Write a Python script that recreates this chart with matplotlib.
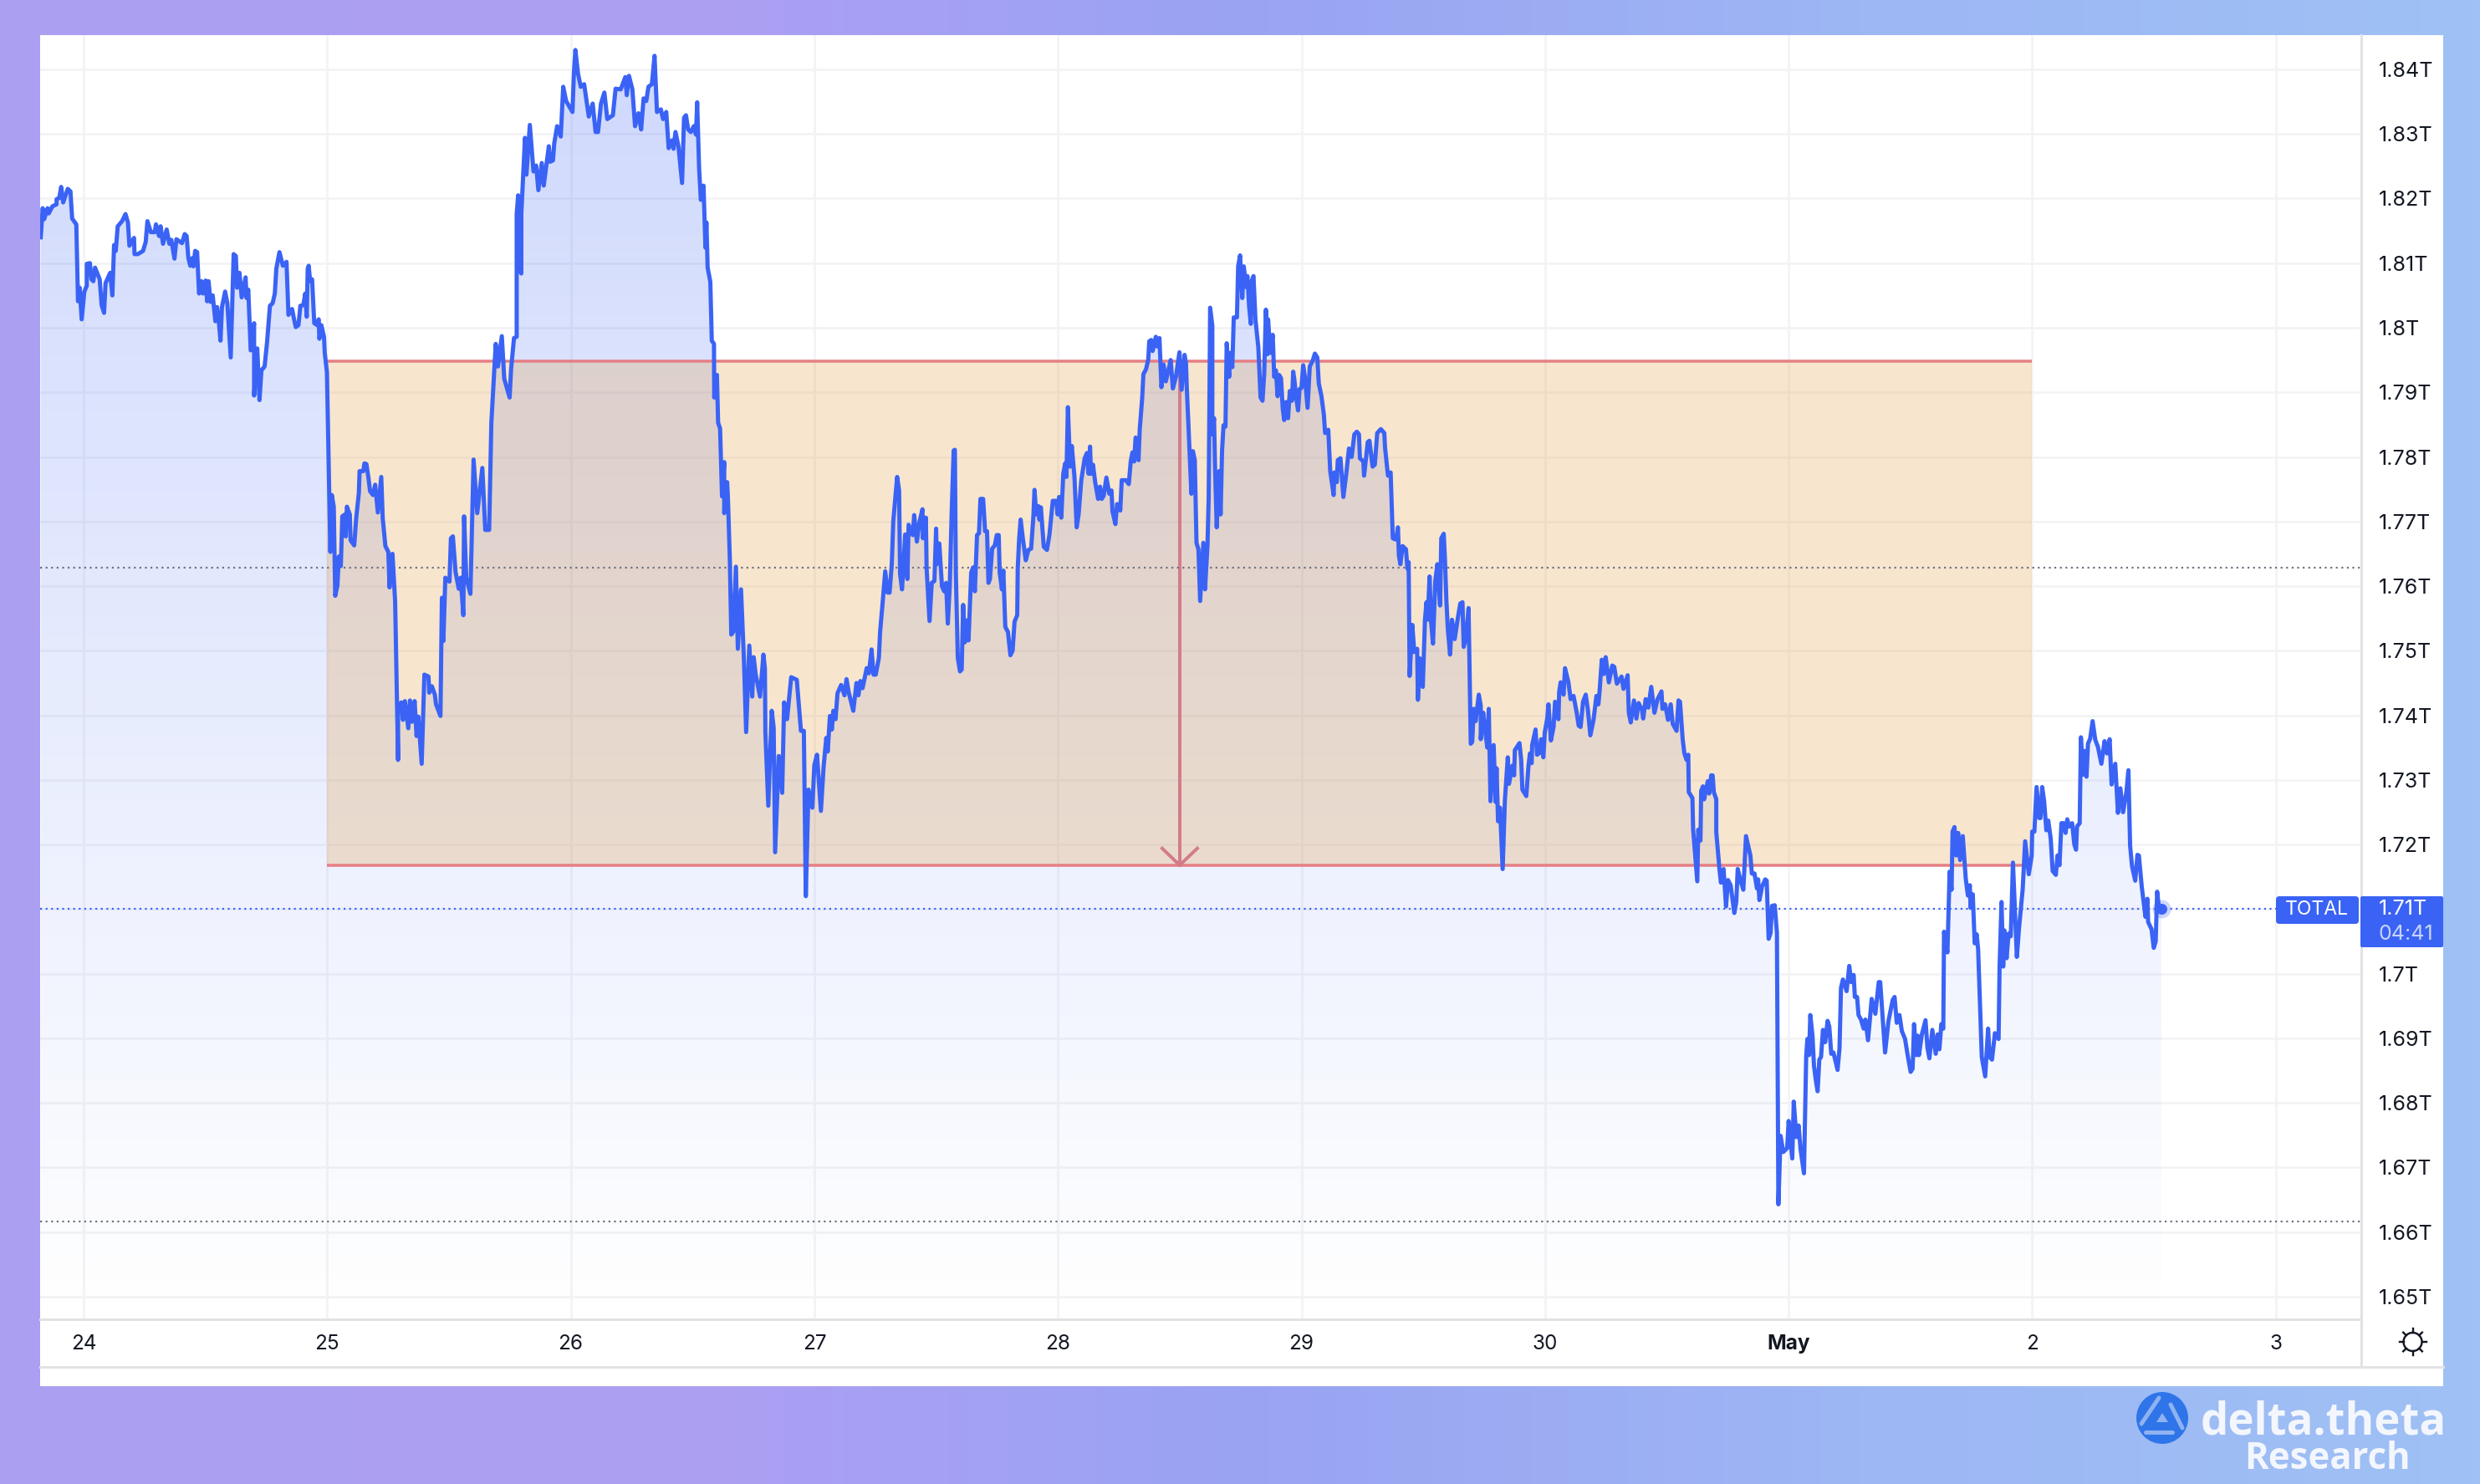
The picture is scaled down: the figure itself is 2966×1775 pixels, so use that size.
import matplotlib

matplotlib.use("Agg")
import matplotlib.pyplot as plt
import numpy as np
from matplotlib.colors import LinearSegmentedColormap, to_rgb
from matplotlib.patches import Circle, FancyBboxPatch, Polygon, Rectangle

W, H = 2966, 1775
DPI = 100

# Days since 24 April 00:00 and total market cap in trillions
days = [
    -0.176, -0.168, -0.162, -0.148, -0.143, -0.128, -0.111, -0.111, -0.100, -0.092,
    -0.084, -0.065, -0.054, -0.047, -0.030, -0.023, -0.016, -0.008, 0.003, 0.013,
    0.013, 0.026, 0.032, 0.040, 0.047, 0.066, 0.074, 0.084, 0.090, 0.109,
    0.118, 0.125, 0.132, 0.140, 0.158, 0.172, 0.182, 0.188, 0.207, 0.209,
    0.223, 0.244, 0.255, 0.262, 0.276, 0.292, 0.297, 0.310, 0.316, 0.326,
    0.341, 0.352, 0.360, 0.373, 0.381, 0.404, 0.415, 0.423, 0.430, 0.438,
    0.447, 0.451, 0.458, 0.466, 0.474, 0.484, 0.490, 0.501, 0.507, 0.513,
    0.521, 0.530, 0.541, 0.548, 0.555, 0.562, 0.568, 0.581, 0.590, 0.604,
    0.616, 0.625, 0.630, 0.640, 0.649, 0.665, 0.669, 0.676, 0.686, 0.700,
    0.700, 0.713, 0.722, 0.730, 0.743, 0.753, 0.765, 0.776, 0.785, 0.791,
    0.804, 0.818, 0.833, 0.841, 0.856, 0.864, 0.871, 0.882, 0.890, 0.902,
    0.910, 0.916, 0.920, 0.924, 0.930, 0.938, 0.947, 0.959, 0.965, 0.968,
    0.976, 0.987, 0.990, 0.999, 1.002, 1.013, 1.019, 1.027, 1.033, 1.042,
    1.048, 1.056, 1.062, 1.073, 1.076, 1.081, 1.093, 1.096, 1.111, 1.119,
    1.130, 1.133, 1.148, 1.153, 1.161, 1.170, 1.176, 1.188, 1.197, 1.208,
    1.222, 1.228, 1.239, 1.251, 1.256, 1.260, 1.268, 1.279, 1.291, 1.291,
    1.304, 1.311, 1.319, 1.333, 1.340, 1.348, 1.359, 1.367, 1.374, 1.388,
    1.399, 1.416, 1.419, 1.430, 1.442, 1.447, 1.465, 1.471, 1.477, 1.485,
    1.502, 1.508, 1.516, 1.527, 1.540, 1.548, 1.559, 1.562, 1.571, 1.588,
    1.601, 1.616, 1.637, 1.649, 1.665, 1.674, 1.692, 1.701, 1.717, 1.727,
    1.749, 1.755, 1.767, 1.778, 1.778, 1.784, 1.789, 1.797, 1.797, 1.812,
    1.818, 1.832, 1.847, 1.858, 1.867, 1.881, 1.889, 1.910, 1.915, 1.927,
    1.932, 1.944, 1.959, 1.969, 1.981, 2.007, 2.013, 2.019, 2.030, 2.041,
    2.055, 2.074, 2.090, 2.102, 2.112, 2.124, 2.138, 2.150, 2.173, 2.184,
    2.205, 2.224, 2.230, 2.239, 2.253, 2.264, 2.278, 2.289, 2.299, 2.310,
    2.319, 2.333, 2.344, 2.354, 2.370, 2.379, 2.392, 2.402, 2.416, 2.422,
    2.430, 2.442, 2.457, 2.465, 2.473, 2.482, 2.493, 2.505, 2.514, 2.519,
    2.527, 2.534, 2.545, 2.553, 2.557, 2.562, 2.573, 2.579, 2.588, 2.589,
    2.600, 2.605, 2.613, 2.621, 2.630, 2.630, 2.642, 2.645, 2.653, 2.659,
    2.667, 2.678, 2.686, 2.699, 2.711, 2.720, 2.733, 2.745, 2.751, 2.759,
    2.777, 2.791, 2.797, 2.799, 2.811, 2.825, 2.833, 2.839, 2.854, 2.868,
    2.876, 2.888, 2.905, 2.928, 2.945, 2.957, 2.965, 2.976, 2.992, 3.000,
    3.011, 3.027, 3.038, 3.049, 3.055, 3.064, 3.072, 3.078, 3.087, 3.095,
    3.110, 3.124, 3.132, 3.141, 3.160, 3.173, 3.181, 3.189, 3.198, 3.215,
    3.224, 3.235, 3.243, 3.252, 3.265, 3.270, 3.279, 3.291, 3.301, 3.309,
    3.318, 3.324, 3.332, 3.340, 3.348, 3.352, 3.360, 3.373, 3.382, 3.387,
    3.404, 3.410, 3.421, 3.432, 3.444, 3.446, 3.458, 3.461, 3.473, 3.482,
    3.493, 3.500, 3.503, 3.513, 3.524, 3.533, 3.541, 3.548, 3.556, 3.564,
    3.572, 3.577, 3.581, 3.589, 3.598, 3.605, 3.611, 3.618, 3.625, 3.633,
    3.644, 3.652, 3.659, 3.668, 3.676, 3.682, 3.693, 3.701, 3.709, 3.715,
    3.721, 3.730, 3.741, 3.749, 3.757, 3.761, 3.770, 3.776, 3.784, 3.795,
    3.805, 3.814, 3.822, 3.833, 3.835, 3.841, 3.847, 3.856, 3.868, 3.879,
    3.890, 3.899, 3.904, 3.911, 3.919, 3.924, 3.930, 3.942, 3.955, 3.965,
    3.970, 3.979, 3.993, 3.999, 4.005, 4.014, 4.022, 4.030, 4.035, 4.041,
    4.050, 4.057, 4.068, 4.077, 4.085, 4.096, 4.110, 4.119, 4.126, 4.132,
    4.136, 4.144, 4.153, 4.165, 4.173, 4.180, 4.188, 4.199, 4.211, 4.220,
    4.224, 4.236, 4.243, 4.256, 4.262, 4.279, 4.291, 4.299, 4.306, 4.313,
    4.319, 4.331, 4.336, 4.346, 4.351, 4.362, 4.371, 4.375, 4.383, 4.389,
    4.402, 4.408, 4.417, 4.425, 4.434, 4.443, 4.463, 4.472, 4.485, 4.499,
    4.508, 4.520, 4.526, 4.529, 4.537, 4.548, 4.554, 4.562, 4.569, 4.577,
    4.584, 4.597, 4.604, 4.614, 4.619, 4.625, 4.634, 4.634, 4.641, 4.645,
    4.652, 4.662, 4.668, 4.674, 4.680, 4.688, 4.693, 4.703, 4.708, 4.716,
    4.722, 4.735, 4.740, 4.748, 4.757, 4.763, 4.773, 4.778, 4.785, 4.792,
    4.796, 4.803, 4.811, 4.823, 4.832, 4.840, 4.847, 4.854, 4.860, 4.863,
    4.872, 4.882, 4.888, 4.895, 4.902, 4.908, 4.916, 4.923, 4.929, 4.937,
    4.945, 4.952, 4.961, 4.966, 4.971, 4.979, 4.986, 4.992, 5.000, 5.007,
    5.014, 5.025, 5.034, 5.046, 5.055, 5.065, 5.071, 5.082, 5.092, 5.097,
    5.110, 5.118, 5.132, 5.135, 5.145, 5.149, 5.160, 5.172, 5.183, 5.195,
    5.206, 5.217, 5.227, 5.236, 5.240, 5.254, 5.257, 5.272, 5.279, 5.292,
    5.301, 5.311, 5.326, 5.340, 5.343, 5.355, 5.366, 5.375, 5.389, 5.396,
    5.400, 5.406, 5.415, 5.429, 5.435, 5.440, 5.444, 5.455, 5.463, 5.475,
    5.478, 5.486, 5.498, 5.507, 5.513, 5.518, 5.526, 5.532, 5.540, 5.549,
    5.558, 5.569, 5.574, 5.584, 5.589, 5.595, 5.601, 5.610, 5.618, 5.629,
    5.643, 5.652, 5.661, 5.666, 5.675, 5.686, 5.695, 5.701, 5.707, 5.715,
    5.728, 5.736, 5.736, 5.746, 5.755, 5.763, 5.769, 5.776, 5.789, 5.797,
    5.801, 5.807, 5.815, 5.826, 5.835, 5.847, 5.852, 5.866, 5.873, 5.876,
    5.895, 5.902, 5.907, 5.923, 5.932, 5.938, 5.945, 5.947, 5.961, 5.967,
    5.975, 5.984, 5.993, 5.999, 6.009, 6.014, 6.024, 6.035, 6.041, 6.055,
    6.058, 6.064, 6.076, 6.082, 6.096, 6.105, 6.117, 6.130, 6.138, 6.146,
    6.156, 6.167, 6.176, 6.186, 6.199, 6.211, 6.219, 6.224, 6.233, 6.241,
    6.249, 6.262, 6.276, 6.284, 6.295, 6.314, 6.322, 6.339, 6.344, 6.352,
    6.365, 6.375, 6.384, 6.398, 6.403, 6.413, 6.424, 6.436, 6.449, 6.462,
    6.478, 6.482, 6.493, 6.505, 6.516, 6.524, 6.540, 6.548, 6.554, 6.565,
    6.572, 6.581, 6.588, 6.590, 6.605, 6.608, 6.625, 6.629, 6.638, 6.641,
    6.648, 6.653, 6.668, 6.674, 6.682, 6.688, 6.693, 6.703, 6.703, 6.716,
    6.722, 6.733, 6.743, 6.751, 6.762, 6.777, 6.785, 6.791, 6.802, 6.814,
    6.825, 6.843, 6.849, 6.860, 6.870, 6.875, 6.880, 6.891, 6.904, 6.910,
    6.918, 6.926, 6.932, 6.943, 6.952, 6.958, 6.967, 6.978, 6.994, 7.000,
    7.015, 7.021, 7.032, 7.041, 7.049, 7.063, 7.072, 7.077, 7.084, 7.089,
    7.098, 7.104, 7.112, 7.119, 7.126, 7.133, 7.141, 7.150, 7.160, 7.167,
    7.175, 7.184, 7.201, 7.209, 7.215, 7.223, 7.238, 7.249, 7.257, 7.267,
    7.272, 7.281, 7.287, 7.297, 7.308, 7.315, 7.326, 7.341, 7.356, 7.370,
    7.376, 7.387, 7.396, 7.410, 7.427, 7.435, 7.444, 7.455, 7.465, 7.478,
    7.490, 7.501, 7.509, 7.515, 7.524, 7.530, 7.535, 7.547, 7.562, 7.570,
    7.578, 7.590, 7.604, 7.612, 7.619, 7.627, 7.635, 7.638, 7.652, 7.661,
    7.669, 7.673, 7.681, 7.688, 7.696, 7.704, 7.715, 7.727, 7.736, 7.744,
    7.747, 7.756, 7.764, 7.772, 7.778, 7.789, 7.793, 7.807, 7.819, 7.825,
    7.835, 7.847, 7.862, 7.866, 7.874, 7.881, 7.886, 7.895, 7.903, 7.912,
    7.921, 7.937, 7.946, 7.961, 7.971, 7.986, 7.998, 8.000, 8.009, 8.018,
    8.029, 8.034, 8.041, 8.049, 8.058, 8.066, 8.076, 8.084, 8.097, 8.104,
    8.112, 8.120, 8.129, 8.137, 8.144, 8.152, 8.164, 8.173, 8.180, 8.184,
    8.195, 8.200, 8.209, 8.213, 8.223, 8.229, 8.238, 8.248, 8.259, 8.270,
    8.284, 8.297, 8.307, 8.318, 8.326, 8.341, 8.352, 8.362, 8.373, 8.387,
    8.395, 8.402, 8.410, 8.423, 8.432, 8.438, 8.450, 8.465, 8.473, 8.476,
    8.490, 8.499, 8.507, 8.513, 8.521, 8.530,
]

total = [
    1.8140, 1.8185, 1.8168, 1.8185, 1.8177, 1.8188, 1.8191, 1.8199, 1.8201, 1.8218,
    1.8194, 1.8215, 1.8211, 1.8169, 1.8160, 1.8041, 1.8062, 1.8013, 1.8056, 1.8065,
    1.8099, 1.8100, 1.8075, 1.8072, 1.8093, 1.8075, 1.8035, 1.8023, 1.8069, 1.8085,
    1.8050, 1.8128, 1.8119, 1.8157, 1.8165, 1.8176, 1.8163, 1.8127, 1.8139, 1.8114,
    1.8114, 1.8119, 1.8133, 1.8165, 1.8148, 1.8148, 1.8160, 1.8142, 1.8157, 1.8130,
    1.8152, 1.8130, 1.8136, 1.8107, 1.8137, 1.8131, 1.8145, 1.8142, 1.8108, 1.8096,
    1.8108, 1.8095, 1.8119, 1.8117, 1.8053, 1.8072, 1.8053, 1.8073, 1.8041, 1.8072,
    1.8040, 1.8050, 1.8010, 1.8032, 1.8010, 1.7980, 1.8032, 1.8056, 1.8038, 1.7954,
    1.8114, 1.8111, 1.8062, 1.8085, 1.8047, 1.8078, 1.8046, 1.8059, 1.7965, 1.8007,
    1.7895, 1.7968, 1.7888, 1.7934, 1.7940, 1.7977, 1.8034, 1.8038, 1.8053, 1.8091,
    1.8117, 1.8096, 1.8102, 1.8020, 1.8029, 1.8013, 1.8001, 1.8004, 1.8034, 1.8035,
    1.8053, 1.8017, 1.8091, 1.8096, 1.8072, 1.8075, 1.8007, 1.8004, 1.8013, 1.7983,
    1.8004, 1.7986, 1.7961, 1.7931, 1.7870, 1.7653, 1.7741, 1.7723, 1.7585, 1.7601,
    1.7646, 1.7631, 1.7708, 1.7711, 1.7677, 1.7723, 1.7711, 1.7671, 1.7663, 1.7705,
    1.7744, 1.7778, 1.7778, 1.7790, 1.7789, 1.7766, 1.7747, 1.7741, 1.7757, 1.7714,
    1.7769, 1.7705, 1.7662, 1.7653, 1.7598, 1.7637, 1.7650, 1.7576, 1.7331, 1.7405,
    1.7420, 1.7393, 1.7422, 1.7380, 1.7423, 1.7390, 1.7422, 1.7368, 1.7398, 1.7325,
    1.7463, 1.7460, 1.7435, 1.7445, 1.7432, 1.7417, 1.7399, 1.7582, 1.7515, 1.7613,
    1.7607, 1.7674, 1.7677, 1.7622, 1.7596, 1.7613, 1.7555, 1.7708, 1.7613, 1.7588,
    1.7796, 1.7713, 1.7783, 1.7687, 1.7687, 1.7853, 1.7975, 1.7940, 1.7987, 1.7921,
    1.7892, 1.7936, 1.7984, 1.7986, 1.8176, 1.8205, 1.8089, 1.8084, 1.8176, 1.8294,
    1.8237, 1.8314, 1.8242, 1.8251, 1.8213, 1.8255, 1.8220, 1.8281, 1.8257, 1.8259,
    1.8285, 1.8312, 1.8296, 1.8373, 1.8351, 1.8334, 1.8395, 1.8430, 1.8393, 1.8373,
    1.8377, 1.8327, 1.8347, 1.8303, 1.8303, 1.8347, 1.8364, 1.8323, 1.8329, 1.8370,
    1.8369, 1.8388, 1.8360, 1.8390, 1.8369, 1.8312, 1.8332, 1.8307, 1.8355, 1.8351,
    1.8373, 1.8377, 1.8421, 1.8334, 1.8338, 1.8323, 1.8334, 1.8278, 1.8290, 1.8277,
    1.8303, 1.8281, 1.8224, 1.8325, 1.8329, 1.8307, 1.8303, 1.8312, 1.8299, 1.8349,
    1.8246, 1.8198, 1.8220, 1.8124, 1.8163, 1.8093, 1.8071, 1.7980, 1.7975, 1.7892,
    1.7927, 1.7853, 1.7844, 1.7739, 1.7792, 1.7713, 1.7761, 1.7739, 1.7643, 1.7525,
    1.7529, 1.7630, 1.7503, 1.7595, 1.7486, 1.7374, 1.7508, 1.7429, 1.7490, 1.7464,
    1.7429, 1.7494, 1.7473, 1.7374, 1.7260, 1.7407, 1.7381, 1.7188, 1.7337, 1.7280,
    1.7420, 1.7394, 1.7459, 1.7455, 1.7376, 1.7376, 1.7120, 1.7285, 1.7257, 1.7323,
    1.7339, 1.7252, 1.7320, 1.7365, 1.7344, 1.7399, 1.7378, 1.7407, 1.7394, 1.7434,
    1.7447, 1.7431, 1.7456, 1.7436, 1.7407, 1.7450, 1.7431, 1.7453, 1.7442, 1.7473,
    1.7465, 1.7502, 1.7463, 1.7463, 1.7489, 1.7529, 1.7568, 1.7623, 1.7590, 1.7590,
    1.7634, 1.7700, 1.7735, 1.7769, 1.7748, 1.7619, 1.7595, 1.7680, 1.7611, 1.7695,
    1.7679, 1.7710, 1.7669, 1.7700, 1.7719, 1.7674, 1.7706, 1.7627, 1.7546, 1.7605,
    1.7608, 1.7689, 1.7634, 1.7666, 1.7600, 1.7592, 1.7605, 1.7542, 1.7600, 1.7716,
    1.7810, 1.7811, 1.7621, 1.7489, 1.7468, 1.7471, 1.7571, 1.7513, 1.7547, 1.7516,
    1.7621, 1.7629, 1.7592, 1.7679, 1.7682, 1.7735, 1.7735, 1.7685, 1.7685, 1.7605,
    1.7611, 1.7658, 1.7663, 1.7679, 1.7679, 1.7621, 1.7595, 1.7624, 1.7537, 1.7529,
    1.7493, 1.7500, 1.7545, 1.7555, 1.7627, 1.7674, 1.7703, 1.7674, 1.7640, 1.7656,
    1.7658, 1.7706, 1.7749, 1.7711, 1.7724, 1.7703, 1.7722, 1.7661, 1.7656, 1.7679,
    1.7698, 1.7732, 1.7732, 1.7711, 1.7738, 1.7706, 1.7774, 1.7790, 1.7769, 1.7877,
    1.7785, 1.7817, 1.7769, 1.7691, 1.7711, 1.7764, 1.7798, 1.7806, 1.7774, 1.7816,
    1.7774, 1.7788, 1.7761, 1.7735, 1.7754, 1.7735, 1.7740, 1.7768, 1.7743, 1.7748,
    1.7716, 1.7696, 1.7727, 1.7717, 1.7764, 1.7764, 1.7758, 1.7793, 1.7807, 1.7793,
    1.7830, 1.7795, 1.7843, 1.7891, 1.7928, 1.7936, 1.7951, 1.7979, 1.7981, 1.7964,
    1.7986, 1.7971, 1.7984, 1.7908, 1.7943, 1.7917, 1.7950, 1.7906, 1.7925, 1.7962,
    1.7904, 1.7958, 1.7944, 1.7909, 1.7840, 1.7743, 1.7809, 1.7795, 1.7667, 1.7657,
    1.7577, 1.7667, 1.7595, 1.7662, 1.7736, 1.8031, 1.8003, 1.7835, 1.7860, 1.7788,
    1.7691, 1.7778, 1.7711, 1.7810, 1.7849, 1.7847, 1.7976, 1.7924, 1.7961, 1.7939,
    1.8016, 1.8016, 1.8095, 1.8112, 1.8046, 1.8095, 1.8063, 1.8080, 1.8033, 1.8006,
    1.8073, 1.8080, 1.8013, 1.7969, 1.7892, 1.7887, 1.7929, 1.8028, 1.7959, 1.8013,
    1.7961, 1.7989, 1.7924, 1.7934, 1.7894, 1.7927, 1.7922, 1.7875, 1.7857, 1.7885,
    1.7860, 1.7902, 1.7887, 1.7932, 1.7919, 1.7890, 1.7872, 1.7905, 1.7907, 1.7942,
    1.7924, 1.7876, 1.7940, 1.7949, 1.7960, 1.7954, 1.7914, 1.7894, 1.7865, 1.7837,
    1.7842, 1.7778, 1.7741, 1.7776, 1.7761, 1.7795, 1.7798, 1.7738, 1.7771, 1.7813,
    1.7800, 1.7835, 1.7839, 1.7835, 1.7798, 1.7793, 1.7771, 1.7823, 1.7825, 1.7785,
    1.7788, 1.7837, 1.7843, 1.7837, 1.7815, 1.7771, 1.7776, 1.7674, 1.7672, 1.7691,
    1.7647, 1.7634, 1.7662, 1.7657, 1.7627, 1.7637, 1.7461, 1.7540, 1.7498, 1.7503,
    1.7424, 1.7488, 1.7444, 1.7548, 1.7575, 1.7548, 1.7615, 1.7545, 1.7511, 1.7607,
    1.7634, 1.7570, 1.7674, 1.7681, 1.7642, 1.7577, 1.7533, 1.7494, 1.7548, 1.7518,
    1.7553, 1.7573, 1.7575, 1.7506, 1.7518, 1.7566, 1.7356, 1.7359, 1.7410, 1.7391,
    1.7432, 1.7415, 1.7363, 1.7404, 1.7374, 1.7350, 1.7410, 1.7267, 1.7354, 1.7266,
    1.7318, 1.7236, 1.7257, 1.7162, 1.7268, 1.7335, 1.7294, 1.7322, 1.7307, 1.7346,
    1.7357, 1.7331, 1.7285, 1.7275, 1.7322, 1.7341, 1.7326, 1.7354, 1.7378, 1.7339,
    1.7341, 1.7363, 1.7335, 1.7374, 1.7395, 1.7417, 1.7361, 1.7382, 1.7421, 1.7394,
    1.7436, 1.7451, 1.7432, 1.7473, 1.7451, 1.7425, 1.7430, 1.7404, 1.7384, 1.7382,
    1.7421, 1.7432, 1.7408, 1.7369, 1.7393, 1.7430, 1.7417, 1.7438, 1.7486, 1.7464,
    1.7490, 1.7451, 1.7477, 1.7475, 1.7449, 1.7460, 1.7441, 1.7462, 1.7404, 1.7389,
    1.7423, 1.7395, 1.7419, 1.7408, 1.7395, 1.7425, 1.7412, 1.7444, 1.7404, 1.7425,
    1.7437, 1.7410, 1.7417, 1.7393, 1.7417, 1.7387, 1.7376, 1.7423, 1.7421, 1.7363,
    1.7341, 1.7331, 1.7339, 1.7281, 1.7272, 1.7223, 1.7143, 1.7223, 1.7206, 1.7283,
    1.7290, 1.7270, 1.7298, 1.7279, 1.7307, 1.7307, 1.7281, 1.7270, 1.7219, 1.7162,
    1.7141, 1.7162, 1.7104, 1.7145, 1.7137, 1.7094, 1.7111, 1.7162, 1.7145, 1.7130,
    1.7213, 1.7183, 1.7155, 1.7155, 1.7132, 1.7146, 1.7114, 1.7135, 1.7146, 1.7144,
    1.7054, 1.7063, 1.7105, 1.7106, 1.7063, 1.6643, 1.6749, 1.6724, 1.6730, 1.6772,
    1.6714, 1.6802, 1.6747, 1.6765, 1.6728, 1.6691, 1.6871, 1.6899, 1.6874, 1.6936,
    1.6904, 1.6858, 1.6834, 1.6818, 1.6867, 1.6871, 1.6913, 1.6894, 1.6927, 1.6918,
    1.6876, 1.6878, 1.6851, 1.6885, 1.6978, 1.6991, 1.6973, 1.7012, 1.6987, 1.6998,
    1.6964, 1.6964, 1.6936, 1.6929, 1.6915, 1.6929, 1.6897, 1.6961, 1.6938, 1.6987,
    1.6987, 1.6927, 1.6878, 1.6927, 1.6959, 1.6964, 1.6924, 1.6936, 1.6911, 1.6899,
    1.6871, 1.6848, 1.6853, 1.6922, 1.6874, 1.6904, 1.6874, 1.6906, 1.6928, 1.6885,
    1.6869, 1.6913, 1.6876, 1.6906, 1.6883, 1.6922, 1.6915, 1.7065, 1.7033, 1.7158,
    1.7130, 1.7220, 1.7227, 1.7183, 1.7218, 1.7176, 1.7213, 1.7148, 1.7121, 1.7137,
    1.7102, 1.7123, 1.7047, 1.7061, 1.7038, 1.6918, 1.6871, 1.6841, 1.6915, 1.6871,
    1.6867, 1.6908, 1.6899, 1.7009, 1.7111, 1.7011, 1.7067, 1.7024, 1.7062, 1.7058,
    1.7172, 1.7026, 1.7071, 1.7131, 1.7205, 1.7154, 1.7183, 1.7220, 1.7220, 1.7289,
    1.7241, 1.7241, 1.7289, 1.7267, 1.7222, 1.7237, 1.7209, 1.7159, 1.7153, 1.7183,
    1.7168, 1.7233, 1.7233, 1.7218, 1.7239, 1.7228, 1.7233, 1.7200, 1.7192, 1.7228,
    1.7233, 1.7366, 1.7308, 1.7345, 1.7305, 1.7356, 1.7364, 1.7391, 1.7362, 1.7351,
    1.7325, 1.7360, 1.7341, 1.7363, 1.7293, 1.7325, 1.7249, 1.7287, 1.7250, 1.7282,
    1.7315, 1.7198, 1.7166, 1.7144, 1.7184, 1.7183, 1.7134, 1.7088, 1.7116, 1.7080,
    1.7069, 1.7040, 1.7050, 1.7127, 1.7100, 1.7100,
]

last_price = 1.71
range_high = 1.7948
range_low = 1.7168
range_start = 1.0
range_end = 8.0
arrow_day = 4.5
upper_level = 1.7629
lower_level = 1.6616

price_ticks = [round(1.65 + i * 0.01, 2) for i in range(20)]
day_ticks = list(range(10))
day_labels = ["24", "25", "26", "27", "28", "29", "30", "May", "2", "3"]

BLUE = "#3a63f5"
RED = "#e57f85"
ARROW = "#d27c8a"
GRID = "#f3f3f5"
AXIS = "#e2e2e4"
TEXT = "#131722"
FONT = "Inter"


def px(n):
    # pixel length to points at the figure dpi
    return n * 72 / DPI


fig = plt.figure(figsize=(W / DPI, H / DPI), dpi=DPI)

# page background with the purple to blue wash
bg = fig.add_axes([0, 0, 1, 1], zorder=0)
bg.set_xlim(0, W)
bg.set_ylim(H, 0)
bg.axis("off")
wash = LinearSegmentedColormap.from_list(
    "wash",
    [(0, "#ab9ff2"), (0.28, "#ad9ff3"), (0.5, "#9aa3f2"), (0.75, "#9db6f4"), (1, "#9fc1f5")],
)
bg.imshow(
    np.linspace(0, 1, 512).reshape(1, -1), cmap=wash, extent=[0, W, H, 0], aspect="auto"
)
bg.add_patch(Rectangle((48, 42), 2922 - 48, 1658 - 42, fc="white", ec="none"))
bg.plot([48, 2922], [1635, 1635], color=AXIS, lw=px(3))
bg.plot([2824, 2824], [1578, 1635], color=AXIS, lw=px(3))

# price pane
ax = fig.add_axes(
    [48 / W, 1 - 1578 / H, (2824 - 48) / W, (1578 - 42) / H], zorder=1, facecolor="none"
)
xmin, xmax = -0.1785, 9.351
ymin, ymax = 1.6465, 1.8453

ax.set_xticks(day_ticks)
ax.set_xticklabels(day_labels, fontsize=17.5, color=TEXT, family=FONT)
ax.get_xticklabels()[7].set_fontweight("bold")
ax.set_yticks(price_ticks)
ax.set_yticklabels(
    [f"{p:.2f}".rstrip("0") + "T" for p in price_ticks], fontsize=18, color=TEXT, family=FONT
)
ax.yaxis.tick_right()
ax.tick_params(axis="both", length=0)
ax.tick_params(axis="y", pad=px(21))
ax.tick_params(axis="x", pad=px(18))
ax.grid(True, color=GRID, lw=px(2.5), zorder=0)
ax.set_axisbelow(True)
for side in ["top", "left"]:
    ax.spines[side].set_visible(False)
for side in ["right", "bottom"]:
    ax.spines[side].set_color(AXIS)
    ax.spines[side].set_linewidth(px(3))

# gradient area under the line
rgb = to_rgb(BLUE)
shade = np.zeros((256, 1, 4))
shade[..., :3] = rgb
shade[..., 3] = np.linspace(0.25, 0.0, 256).reshape(-1, 1)
area = ax.imshow(shade, extent=[xmin, xmax, ymin, ymax], aspect="auto", origin="upper", zorder=1)
outline = np.column_stack([days + [days[-1], days[0]], total + [ymin, ymin]])
clip = Polygon(outline, closed=True, transform=ax.transData, fc="none", ec="none")
ax.add_patch(clip)
area.set_clip_path(clip)

# range box with its down arrow
ax.add_patch(
    Rectangle(
        (range_start, range_low),
        range_end - range_start,
        range_high - range_low,
        fc="#e39b3f",
        alpha=0.25,
        ec="none",
        zorder=2,
    )
)
ax.hlines([range_high, range_low], range_start, range_end, color=RED, lw=px(3.5), zorder=3)
ax.plot([arrow_day, arrow_day], [range_high, range_low], color=ARROW, lw=px(4), zorder=3)
ax.plot(
    [arrow_day - 0.072, arrow_day, arrow_day + 0.072],
    [range_low + 0.0026, range_low, range_low + 0.0026],
    color=ARROW,
    lw=px(4),
    zorder=3,
)

# dotted levels
dots = (0, (1, 2))
ax.hlines(
    [upper_level, lower_level], xmin, xmax, color="#6f7280", lw=px(2.2), linestyles=[dots], zorder=4
)
ax.hlines(last_price, xmin, (2722 - 100) / 291.3, color=BLUE, lw=px(2.2), linestyles=[dots], zorder=4)

ax.plot(days, total, color=BLUE, lw=px(5), solid_joinstyle="round", zorder=5)
ax.plot(days[-1], total[-1], "o", ms=px(22), color=BLUE, alpha=0.25, mec="none", zorder=6)
ax.plot(days[-1], total[-1], "o", ms=px(13), color=BLUE, mec="none", zorder=6)

ax.set_xlim(xmin, xmax)
ax.set_ylim(ymin, ymax)

# tags, theme icon and logo sit over the pane
top = fig.add_axes([0, 0, 1, 1], zorder=2, facecolor="none")
top.set_xlim(0, W)
top.set_ylim(H, 0)
top.axis("off")
top.add_patch(
    FancyBboxPatch((2724, 1074), 95, 29, boxstyle="round,pad=2,rounding_size=4", fc=BLUE, ec="none")
)
top.add_patch(
    FancyBboxPatch((2825, 1074), 95, 57, boxstyle="round,pad=2,rounding_size=2", fc=BLUE, ec="none")
)
top.text(2771, 1088, "TOTAL", color="white", fontsize=16.5, family=FONT, ha="center", va="center")
top.text(2845, 1088, "1.71T", color="white", fontsize=18, family=FONT, va="center")
top.text(2845, 1117, "04:41", color="#c7d2fb", fontsize=18, family=FONT, va="center")

sun_x, sun_y = 2885.5, 1605
top.add_patch(Circle((sun_x, sun_y), 11, fc="none", ec=TEXT, lw=px(2.4)))
for angle in np.arange(0, 360, 45):
    c, s = np.cos(np.radians(angle)), np.sin(np.radians(angle))
    top.plot(
        [sun_x + 11 * c, sun_x + 16 * c], [sun_y + 11 * s, sun_y + 16 * s], color=TEXT, lw=px(2.4)
    )

logo_x, logo_y = 2586, 1696
top.add_patch(Circle((logo_x, logo_y), 31, fc="#2f75e9", ec="none"))
pale = "#8fb2f1"
top.plot([2561, 2582], [1703, 1672], color=pale, lw=px(5), solid_capstyle="round")
top.plot([2596, 2610], [1680, 1708], color=pale, lw=px(5), solid_capstyle="round")
top.plot([2566, 2598], [1713, 1713], color=pale, lw=px(5), solid_capstyle="round")
top.add_patch(Polygon([(2586, 1690), (2579, 1701), (2593, 1701)], fc=pale, ec="none"))
top.text(
    2632, 1716, "delta.theta", color="#f3f6fd", fontsize=38, weight="bold", family="Open Sans",
    ha="left", va="baseline",
)
top.text(
    2684, 1757, "Research", color="#f3f6fd", fontsize=31.5, weight="bold", family="Open Sans",
    ha="left", va="baseline",
)

fig.savefig("out.png", dpi=DPI)
